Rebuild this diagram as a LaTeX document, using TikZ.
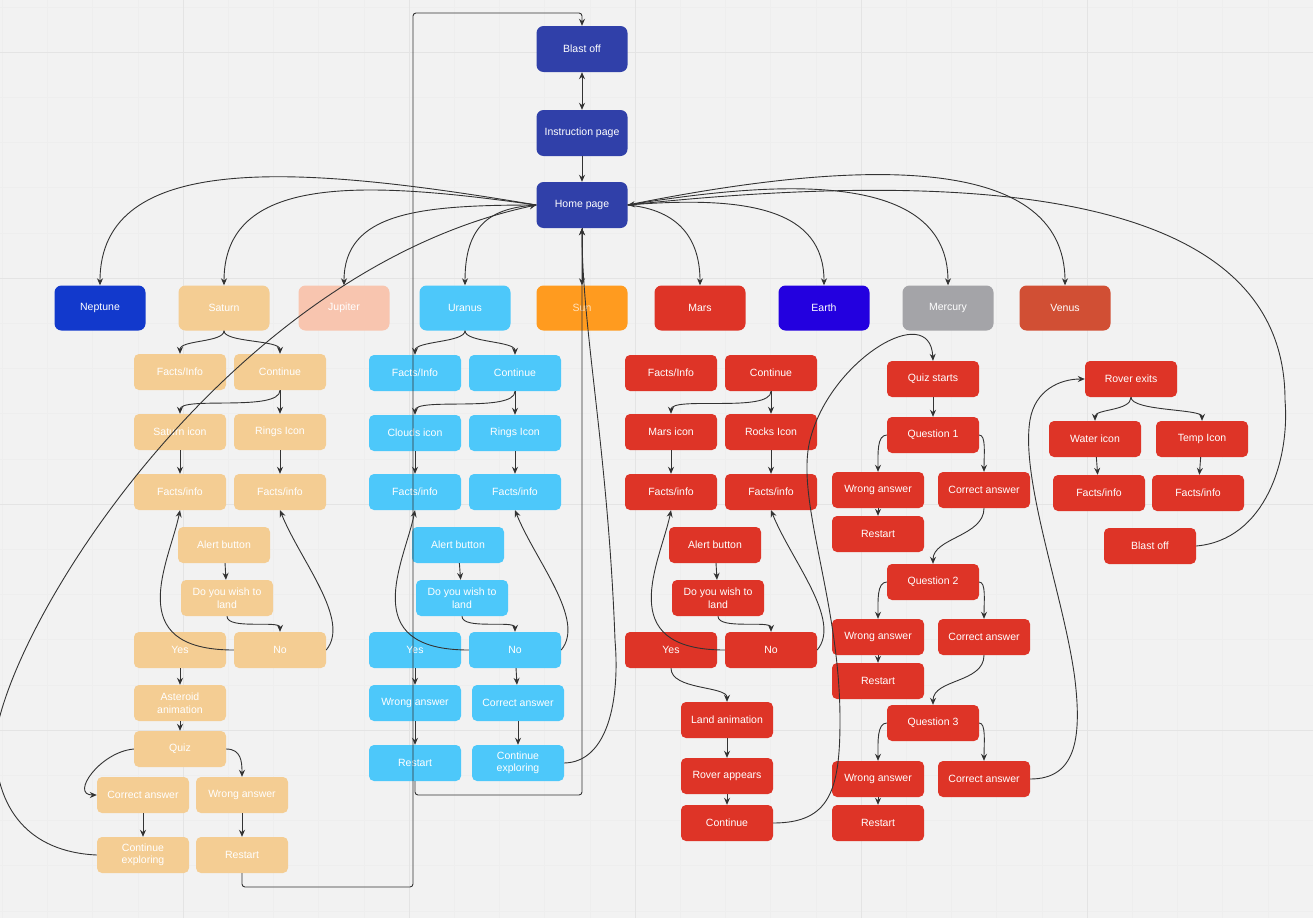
\documentclass[tikz,border=0pt]{standalone}
\usepackage{fontspec}
\setmainfont{Liberation Sans}
\usetikzlibrary{arrows.meta,positioning}
\definecolor{paper}{HTML}{F2F2F2}
\definecolor{gridmajor}{HTML}{E4E4E4}
\definecolor{gridminor}{HTML}{EEEEEE}
\definecolor{wire}{HTML}{333333}
\definecolor{navy}{HTML}{3040A9}
\definecolor{neptunefill}{HTML}{1239CC}
\definecolor{saturnfill}{HTML}{F4CD93}
\definecolor{jupiterfill}{HTML}{F8C5AF}
\definecolor{uranusfill}{HTML}{4DC8FA}
\definecolor{sunfill}{HTML}{FF9B1F}
\definecolor{marsfill}{HTML}{DE3427}
\definecolor{earthfill}{HTML}{2300DF}
\definecolor{mercuryfill}{HTML}{A4A4A8}
\definecolor{venusfill}{HTML}{D14F34}
\tikzset{box/.style={rounded corners=5pt,align=center,text=white,font=\fontsize{10.5}{12.5}\selectfont,minimum width=92pt,minimum height=36pt,inner sep=1pt},planet/.style={box,minimum width=91pt,minimum height=45pt,rounded corners=7pt},mainbox/.style={planet,fill=navy,minimum height=46pt},satbox/.style={box,fill=saturnfill},urabox/.style={box,fill=uranusfill},redbox/.style={box,fill=marsfill},flow/.style={-{Stealth[length=7pt,width=6pt]},line width=.9pt,draw=wire},twoflow/.style={flow,<->,>={Stealth[length=7pt,width=6pt]}},majorline/.style={draw=gridmajor,line width=.8pt},minorline/.style={draw=gridminor,line width=.5pt}}
\begin{document}
\begin{tikzpicture}[x=1pt,y=-1pt]
\useasboundingbox (0,0) rectangle (1313,918);
\fill[paper] (0,0) rectangle (1313,918);
\foreach \gx in {2.2,47.4,...,1313} \draw[minorline] (\gx,0)--(\gx,918);
\foreach \gy in {6.8,52,...,918} \draw[minorline] (0,\gy)--(1313,\gy);
\foreach \gx in {183,409,635,861,1087} \draw[majorline] (\gx,0)--(\gx,918);
\foreach \gy in {52,278,504,730} \draw[majorline] (0,\gy)--(1313,\gy);

\node[mainbox] (blast) at (582,49) {Blast off};
\node[mainbox] (instr) at (582,133) {Instruction page};
\node[mainbox] (home) at (582,205) {Home page};

\node[planet,fill=neptunefill] (neptune) at (100,308) {Neptune};
\node[planet,fill=saturnfill] (saturn) at (224,308) {Saturn};
\node[planet,fill=jupiterfill] (jupiter) at (344,308) {Jupiter};
\node[planet,fill=uranusfill] (uranus) at (465,308) {Uranus};
\node[planet,fill=sunfill,text=sunfill!30!white] (sun) at (582,308) {Sun};
\node[planet,fill=marsfill] (mars) at (700,308) {Mars};
\node[planet,fill=earthfill] (earth) at (824,308) {Earth};
\node[planet,fill=mercuryfill] (mercury) at (948,308) {Mercury};
\node[planet,fill=venusfill] (venus) at (1065,308) {Venus};

\node[satbox] (sfacts) at (180,372) {Facts/Info};
\node[satbox] (scont) at (280,372) {Continue};
\node[satbox] (sicon) at (180,432) {Saturn icon};
\node[satbox] (srings) at (280,432) {Rings Icon};
\node[satbox] (sinfo1) at (180,492) {Facts/info};
\node[satbox] (sinfo2) at (280,492) {Facts/info};
\node[satbox] (salert) at (224,545) {Alert button};
\node[satbox] (sland) at (227,598) {Do you wish to\\land};
\node[satbox] (syes) at (180,650) {Yes};
\node[satbox] (sno) at (280,650) {No};
\node[satbox] (sast) at (180,703) {Asteroid\\animation};
\node[satbox] (squiz) at (180,749) {Quiz};
\node[satbox] (scorrect) at (143,795) {Correct answer};
\node[satbox] (swrong) at (242,795) {Wrong answer};
\node[satbox] (sexplore) at (143,855) {Continue\\exploring};
\node[satbox] (srestart) at (242,855) {Restart};

\node[urabox] (ufacts) at (415,373) {Facts/Info};
\node[urabox] (ucont) at (515,373) {Continue};
\node[urabox] (uclouds) at (415,433) {Clouds icon};
\node[urabox] (urings) at (515,433) {Rings Icon};
\node[urabox] (uinfo1) at (415,492) {Facts/info};
\node[urabox] (uinfo2) at (515,492) {Facts/info};
\node[urabox] (ualert) at (458,545) {Alert button};
\node[urabox] (uland) at (462,598) {Do you wish to\\land};
\node[urabox] (uyes) at (415,650) {Yes};
\node[urabox] (uno) at (515,650) {No};
\node[urabox] (uwrong) at (415,703) {Wrong answer};
\node[urabox] (ucorrect) at (518,703) {Correct answer};
\node[urabox] (urestart) at (415,763) {Restart};
\node[urabox] (uexplore) at (518,763) {Continue\\exploring};

\node[redbox] (mfacts) at (671,373) {Facts/Info};
\node[redbox] (mcont) at (771,373) {Continue};
\node[redbox] (micon) at (671,432) {Mars icon};
\node[redbox] (mrocks) at (771,432) {Rocks Icon};
\node[redbox] (minfo1) at (671,492) {Facts/info};
\node[redbox] (minfo2) at (771,492) {Facts/info};
\node[redbox] (malert) at (715,545) {Alert button};
\node[redbox] (mland) at (718,598) {Do you wish to\\land};
\node[redbox] (myes) at (671,650) {Yes};
\node[redbox] (mno) at (771,650) {No};
\node[redbox] (manim) at (727,720) {Land animation};
\node[redbox] (mrover) at (727,776) {Rover appears};
\node[redbox] (mnext) at (727,823) {Continue};

\node[redbox] (qstart) at (933,379) {Quiz starts};
\node[redbox] (qone) at (933,435) {Question 1};
\node[redbox] (wone) at (878,490) {Wrong answer};
\node[redbox] (cone) at (984,490) {Correct answer};
\node[redbox] (rone) at (878,534) {Restart};
\node[redbox] (qtwo) at (933,582) {Question 2};
\node[redbox] (wtwo) at (878,637) {Wrong answer};
\node[redbox] (ctwo) at (984,637) {Correct answer};
\node[redbox] (rtwo) at (878,681) {Restart};
\node[redbox] (qthree) at (933,723) {Question 3};
\node[redbox] (wthree) at (878,779) {Wrong answer};
\node[redbox] (cthree) at (984,779) {Correct answer};
\node[redbox] (rthree) at (878,823) {Restart};

\node[redbox] (rexit) at (1131,379) {Rover exits};
\node[redbox] (water) at (1095,439) {Water icon};
\node[redbox] (temp) at (1202,439) {Temp Icon};
\node[redbox] (vinfo1) at (1099,493) {Facts/info};
\node[redbox] (vinfo2) at (1198,493) {Facts/info};
\node[redbox] (vblast) at (1150,546) {Blast off};

\draw[twoflow] (instr)--(blast);\draw[flow] (instr)--(home);\draw[flow] (home)--(sun);
\draw[flow] (home.west) .. controls (300,165) and (100,150) .. (neptune.north);
\draw[flow] (home.west) .. controls (360,180) and (224,175) .. (saturn.north);
\draw[flow] (home.west) .. controls (420,205) and (344,212) .. (jupiter.north);
\draw[flow] (home.west) .. controls (490,208) and (465,225) .. (uranus.north);
\draw[flow] (home.east) .. controls (680,210) and (700,240) .. (mars.north);
\draw[flow] (home.east) .. controls (750,195) and (824,210) .. (earth.north);
\draw[flow] (home.east) .. controls (780,180) and (948,170) .. (mercury.north);
\draw[flow] (home.east) .. controls (850,160) and (1065,150) .. (venus.north);
\draw[flow] (sexplore.west) .. controls (30,852) and (-6,810) .. (-5,740) .. controls (10,620) and (230,270) .. (home.west);
\draw[flow] (vblast.east) .. controls (1265,540) and (1290,460) .. (1285,400) .. controls (1285,260) and (1150,150) .. (home.east);
\draw[flow,rounded corners=3pt] (srestart.south) |- (413,887) -- (413,13) -| (blast.north);
\draw[flow,rounded corners=3pt] (urestart.south) |- (582,795) -- (home.south);
\draw[flow] (uexplore.east) .. controls (608,762) and (620,700) .. (615,640) .. controls (608,450) and (582,330) .. (home.south);

\draw[flow] (saturn.south) .. controls +(0,12) and +(0,-14) .. (sfacts.north);
\draw[flow] (saturn.south) .. controls +(0,12) and +(0,-14) .. (scont.north);
\draw[flow] (scont.south) .. controls +(0,22) and +(0,-18) .. (sicon.north);
\draw[flow] (scont)--(srings);\draw[flow] (sicon)--(sinfo1);\draw[flow] (srings)--(sinfo2);
\draw[flow] (salert)--(sland);
\draw[flow] (sland.south) .. controls +(0,14) and +(0,-12) .. (sno.north);
\draw[flow] (sno.west) .. controls +(-114,0) and +(-10,50) .. (sinfo1.south);
\draw[flow] (sno.east) .. controls +(25,-30) and +(20,50) .. (sinfo2.south);
\draw[flow] (syes)--(sast);\draw[flow] (sast)--(squiz);
\draw[flow] (squiz.west) .. controls +(-34,3) and +(-27,0) .. (scorrect.west);
\draw[flow] (squiz.east) .. controls +(15,0) and +(0,-15) .. (swrong.north);
\draw[flow] (scorrect)--(sexplore);\draw[flow] (swrong)--(srestart);

\draw[flow] (uranus.south) .. controls +(0,12) and +(0,-14) .. (ufacts.north);
\draw[flow] (uranus.south) .. controls +(0,12) and +(0,-14) .. (ucont.north);
\draw[flow] (ucont.south) .. controls +(0,22) and +(0,-18) .. (uclouds.north);
\draw[flow] (ucont)--(urings);\draw[flow] (uclouds)--(uinfo1);\draw[flow] (urings)--(uinfo2);
\draw[flow] (ualert)--(uland);
\draw[flow] (uland.south) .. controls +(0,14) and +(0,-12) .. (uno.north);
\draw[flow] (uno.west) .. controls +(-114,0) and +(-10,50) .. (uinfo1.south);
\draw[flow] (uno.east) .. controls +(25,-30) and +(20,50) .. (uinfo2.south);
\draw[flow] (uyes)--(uwrong);\draw[flow] (uno)--(ucorrect);
\draw[flow] (uwrong)--(urestart);\draw[flow] (ucorrect)--(uexplore);

\draw[flow] (mcont.south) .. controls +(0,22) and +(0,-18) .. (micon.north);
\draw[flow] (mcont)--(mrocks);\draw[flow] (micon)--(minfo1);\draw[flow] (mrocks)--(minfo2);
\draw[flow] (malert)--(mland);
\draw[flow] (mland.south) .. controls +(0,14) and +(0,-12) .. (mno.north);
\draw[flow] (mno.west) .. controls +(-114,0) and +(-10,50) .. (minfo1.south);
\draw[flow] (mno.east) .. controls +(25,-30) and +(20,50) .. (minfo2.south);
\draw[flow] (myes.south) .. controls +(0,22) and +(0,-16) .. (manim.north);
\draw[flow] (manim)--(mrover);\draw[flow] (mrover)--(mnext);
\draw[flow] (mnext.east) .. controls (830,823) and (840,790) .. (840,720) .. controls (840,600) and (795,500) .. (810,440) .. controls (830,360) and (930,300) .. (qstart.north);

\draw[flow] (qstart)--(qone);
\draw[flow] (qone.west) .. controls +(-10,0) and +(0,-18) .. (wone.north);
\draw[flow] (qone.east) .. controls +(7,0) and +(0,-18) .. (cone.north);
\draw[flow] (wone)--(rone);
\draw[flow] (cone.south) .. controls +(0,28) and +(0,-26) .. (qtwo.north);
\draw[flow] (qtwo.west) .. controls +(-10,0) and +(0,-18) .. (wtwo.north);
\draw[flow] (qtwo.east) .. controls +(7,0) and +(0,-18) .. (ctwo.north);
\draw[flow] (wtwo)--(rtwo);
\draw[flow] (ctwo.south) .. controls +(0,28) and +(0,-26) .. (qthree.north);
\draw[flow] (qthree.west) .. controls +(-10,0) and +(0,-18) .. (wthree.north);
\draw[flow] (qthree.east) .. controls +(7,0) and +(0,-18) .. (cthree.north);
\draw[flow] (wthree)--(rthree);
\draw[flow] (cthree.east) .. controls (1075,779) and (1082,740) .. (1075,680) .. controls (1065,600) and (1020,480) .. (1030,420) .. controls (1035,390) and (1060,379) .. (rexit.west);

\draw[flow] (rexit.south) .. controls +(0,14) and +(0,-12) .. (water.north);
\draw[flow] (rexit.south) .. controls +(0,14) and +(0,-12) .. (temp.north);
\draw[flow] (water)--(vinfo1);\draw[flow] (temp)--(vinfo2);
\end{tikzpicture}
\end{document}
